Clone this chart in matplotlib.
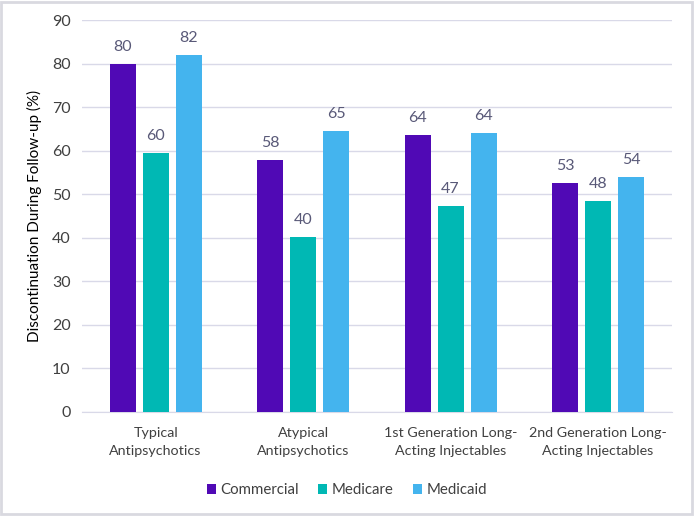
import matplotlib
matplotlib.use("Agg")
import matplotlib.pyplot as plt
import numpy as np
from matplotlib.patches import Rectangle

# données
categories = ["Typical\nAntipsychotics", "Atypical\nAntipsychotics",
              "1st Generation Long-\nActing Injectables", "2nd Generation Long-\nActing Injectables"]
commercial = [80.0, 57.9, 63.6, 52.7]
medicare = [59.6, 40.3, 47.3, 48.4]
medicaid = [82.0, 64.6, 64.0, 54.1]
series_names = ["Commercial", "Medicare", "Medicaid"]
colors = ["#5009B5", "#00B8B4", "#44B4EE"]

plt.rcParams['font.family'] = ['Lato', 'DejaVu Sans']

fig = plt.figure(figsize=(6.94, 5.16), dpi=100)
ax = fig.add_axes([0.118, 0.2016, 0.850, 0.759])

x = np.arange(len(categories))
w = 0.176
pitch = 0.224
for i, (vals, name, col) in enumerate(zip([commercial, medicare, medicaid], series_names, colors)):
    pos = x + (i - 1) * pitch
    ax.bar(pos, vals, width=w, color=col, label=name, zorder=3)
    for p, v in zip(pos, vals):
        ax.text(p, v + 2.3, f"{v:.0f}", ha="center", va="bottom",
                fontsize=11.5, color="#595978")

ax.set_xlim(-0.5, len(categories) - 0.5)
ax.set_ylim(0, 90)
ax.set_yticks(np.arange(0, 91, 10))
ax.yaxis.grid(True, color="#D9D9E8", linewidth=1, zorder=0)
ax.set_xticks(x)
ax.set_xticklabels(categories, fontsize=10.3, color="#404040", linespacing=1.6)
ax.tick_params(axis="y", labelsize=11.5, colors="#404040", length=0, pad=8)
ax.tick_params(axis="x", length=0, pad=11)
for s in ["top", "right", "left"]:
    ax.spines[s].set_visible(False)
ax.spines["bottom"].set_color("#D9D9E8")
ax.set_ylabel("Discontinuation During Follow-up (%)", fontsize=11, color="#000000", labelpad=7)

fig.legend(*ax.get_legend_handles_labels(), loc="center", bbox_to_anchor=(0.5, 0.05),
           ncol=3, frameon=False, fontsize=10.8, handlelength=0.6, handleheight=0.6,
           handletextpad=0.3, columnspacing=1.3, labelcolor="#404040")

fig.patches.append(Rectangle((0.002, 0.003), 0.995, 0.994, transform=fig.transFigure,
                             fill=False, edgecolor="#D9D9E0", linewidth=2))

fig.savefig("out.png", dpi=100)
